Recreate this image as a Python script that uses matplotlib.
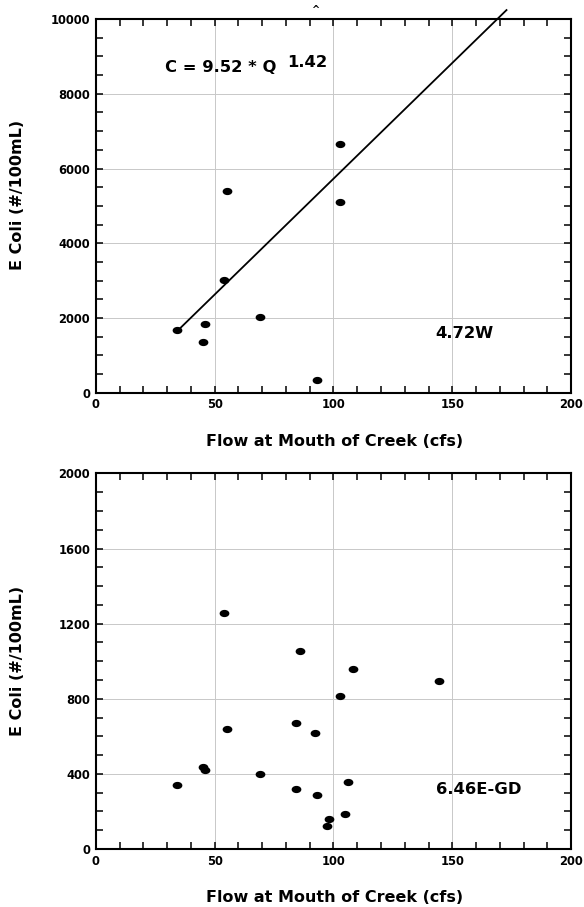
import numpy as np
import matplotlib
matplotlib.use("Agg")
import matplotlib.pyplot as plt
from matplotlib.ticker import MultipleLocator
from matplotlib.path import Path
from matplotlib.transforms import Affine2D

plt.rcParams['font.family'] = ['DejaVu Sans']
plt.rcParams['font.weight'] = 'bold'

# station 4.72W
flow_w = [34.0, 45.2, 46.0, 54.0, 55.1, 69.0, 93.0, 102.9, 102.9]
ecoli_w = [1692, 1353, 1852, 3028, 5405, 2030, 347, 6652, 5102]
fit_x = [34.5, 172.8]
fit_y = [1665, 10240]

# station 6.46E-GD
flow_gd = [54.1, 86.1, 108.1, 144.2, 102.9, 55.1, 84.1, 92.1, 45.0, 46.1,
           69.0, 34.2, 106.0, 84.1, 93.0, 104.9, 98.0, 97.1]
ecoli_gd = [1257, 1056, 957, 896, 817, 638, 673, 618, 439, 420,
            399, 338, 358, 319, 285, 186, 159, 120]

xlab = "Flow at Mouth of Creek (cfs)"
ylab = "E Coli (#/100mL)"

# slightly flattened dot like the original
dot = Path.unit_circle().transformed(Affine2D().scale(1.0, 0.7))

fig = plt.figure(figsize=(5.84, 9.07), dpi=100)
ax1 = fig.add_axes([0.164, 0.567, 0.814, 0.412])
ax2 = fig.add_axes([0.164, 0.064, 0.814, 0.414])


def style(ax, ymax, ymaj, ymin, ylab_y):
    ax.set_xlim(0, 200)
    ax.set_ylim(0, ymax)
    ax.xaxis.set_major_locator(MultipleLocator(50))
    ax.xaxis.set_minor_locator(MultipleLocator(10))
    ax.yaxis.set_major_locator(MultipleLocator(ymaj))
    ax.yaxis.set_minor_locator(MultipleLocator(ymin))
    ax.tick_params(which='both', direction='in', top=True, right=True,
                   length=5, width=1.1, labelsize=8.3, pad=4)
    ax.grid(True, which='major', color='#c8c8c8', lw=0.7)
    ax.set_axisbelow(True)
    for s in ax.spines.values():
        s.set_linewidth(1.5)
    ax.set_xlabel(xlab, fontsize=11.5, fontweight='bold')
    ax.set_ylabel(ylab, fontsize=11.5, fontweight='bold')
    ax.xaxis.set_label_coords(0.503, -0.11)
    ax.yaxis.set_label_coords(-0.149, ylab_y)


style(ax1, 10000, 2000, 500, 0.53)
ax1.plot(flow_w, ecoli_w, marker=dot, ls='none', color='k', ms=6)
ax1.plot(fit_x, fit_y, color='k', lw=1.3, clip_on=False)
ax1.text(29.1, 8690, "C = 9.52 * Q", fontsize=11.8, fontweight='bold', va='center')
ax1.text(80.4, 8830, "1.42", fontsize=11.8, fontweight='bold', va='center')
ax1.text(142.7, 1580, "4.72W", fontsize=11.8, fontweight='bold', va='center')
ax1.text(92.2, 10100, "^", fontsize=7, ha='center', va='bottom')

style(ax2, 2000, 400, 100, 0.5)
ax2.plot(flow_gd, ecoli_gd, marker=dot, ls='none', color='k', ms=6)
ax2.text(143, 314, "6.46E-GD", fontsize=11.8, fontweight='bold', va='center')

fig.savefig("out.png", dpi=100)
